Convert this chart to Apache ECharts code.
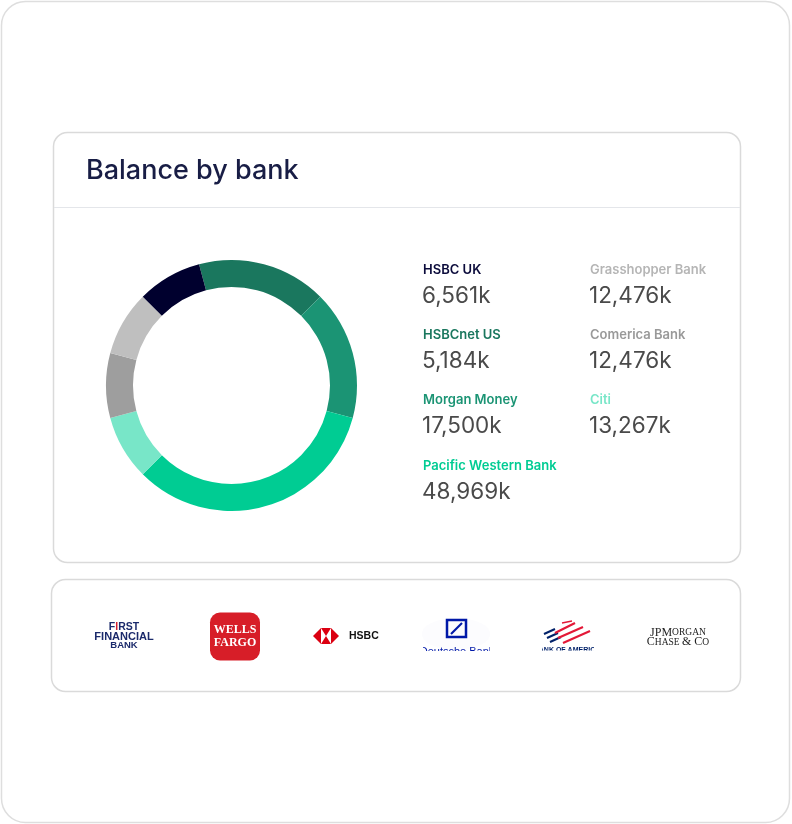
<!DOCTYPE html>
<html><head><meta charset="utf-8">
<script src="https://cdn.jsdelivr.net/npm/echarts@6/dist/echarts.min.js"></script>
<style>html,body{margin:0;padding:0;background:#fff}#c{width:792px;height:824px}</style>
</head><body><div id="c"></div>
<script>
// ---- data ----
const title = 'Balance by bank';
const banks = ['HSBCnet US','Morgan Money','Pacific Western Bank','Citi','Comerica Bank','Grasshopper Bank','HSBC UK'];
const donutShare = [2, 2, 4, 1, 1, 1, 1]; // arc sizes read from the ring
const bankColors = ['#1a775e','#1b9474','#00cc93','#78e6c8','#9e9e9e','#bfbfbf','#00002e'];
const legendNames = ['HSBC UK','HSBCnet US','Morgan Money','Pacific Western Bank','Grasshopper Bank','Comerica Bank','Citi'];
const legendValues = ['6,561k','5,184k','17,500k','48,969k','12,476k','12,476k','13,267k'];
const legendColors = ['#0b0b3b','#1a775e','#1b9474','#00cc93','#b5b5b5','#999999','#78e6c8'];
const logoNames = ['First Financial Bank','Wells Fargo','HSBC','Deutsche Bank','Bank of America','JPMorgan Chase & Co'];

const FONT = 'Inter';
const chart = echarts.init(document.getElementById('c'), null, {renderer:'canvas'});

const g = [];
// frames
g.push({type:'rect', shape:{x:1.5,y:1.5,width:788,height:821,r:24}, style:{fill:'#fff',stroke:'#dedede',lineWidth:1.5}, z:0});
g.push({type:'rect', shape:{x:53.5,y:132.5,width:687,height:430,r:14}, style:{fill:'#fff',stroke:'#dadada',lineWidth:1.5}, z:1});
g.push({type:'line', shape:{x1:54,y1:207.5,x2:740,y2:207.5}, style:{stroke:'#e4e6ea',lineWidth:1.2}, z:2});
g.push({type:'rect', shape:{x:51.5,y:579.5,width:689,height:112,r:14}, style:{fill:'#fff',stroke:'#dadada',lineWidth:1.5}, z:1});
// title
g.push({type:'text', x:86, y:171, style:{text:title, font:'500 27px '+FONT, fill:'#181d45', verticalAlign:'middle'}, z:3});

// legend
const colX = [423, 590];
const rowY = [264, 329, 394, 460];
legendNames.forEach((n,i)=>{
  const col = i < 4 ? 0 : 1, row = i < 4 ? i : i-4;
  g.push({type:'text', x:colX[col], y:rowY[row], style:{text:n, font:'600 13px '+FONT, fill:legendColors[i], verticalAlign:'top'}, z:3});
  g.push({type:'text', x:colX[col]-1, y:rowY[row]+21, style:{text:legendValues[i], font:'400 22.5px '+FONT, fill:'#4a4a4a', verticalAlign:'top'}, z:3});
});

// ---- logos (approximated) ----
// First Financial Bank
g.push({type:'text', x:124, y:627.5, style:{text:'{n|F}{r|I}{n|RST}', align:'center', verticalAlign:'middle',
  rich:{n:{font:'900 10.5px "Liberation Sans"', fill:'#1b2a6b'}, r:{font:'900 10.5px "Liberation Sans"', fill:'#d32030'}}}, z:3});
g.push({type:'text', x:124, y:636.5, style:{text:'FINANCIAL', font:'900 11px "Liberation Sans"', fill:'#1b2a6b', align:'center', verticalAlign:'middle'}, z:3});
g.push({type:'text', x:124, y:645.5, style:{text:'BANK', font:'900 9.5px "Liberation Sans"', fill:'#1b2a6b', align:'center', verticalAlign:'middle'}, z:3});
// Wells Fargo
g.push({type:'rect', shape:{x:210,y:612.5,width:50,height:48,r:10}, style:{fill:'#d71e28'}, z:3});
g.push({type:'text', x:235, y:630, style:{text:'WELLS', font:'bold 12px "Liberation Serif"', fill:'#fff', align:'center', verticalAlign:'middle'}, z:4});
g.push({type:'text', x:235, y:643, style:{text:'FARGO', font:'bold 12px "Liberation Serif"', fill:'#fff', align:'center', verticalAlign:'middle'}, z:4});
// HSBC
const hx=326, hy=636;
g.push({type:'polygon', shape:{points:[[hx-13,hy],[hx-5,hy-8],[hx-5,hy+8]]}, style:{fill:'#db0011'}, z:3});
g.push({type:'polygon', shape:{points:[[hx+13,hy],[hx+5,hy-8],[hx+5,hy+8]]}, style:{fill:'#db0011'}, z:3});
g.push({type:'polygon', shape:{points:[[hx-5,hy-8],[hx+5,hy-8],[hx,hy]]}, style:{fill:'#db0011'}, z:3});
g.push({type:'polygon', shape:{points:[[hx-5,hy+8],[hx+5,hy+8],[hx,hy]]}, style:{fill:'#db0011'}, z:3});
g.push({type:'text', x:349, y:636.5, style:{text:'HSBC', font:'bold 10.5px "Liberation Sans"', fill:'#111', verticalAlign:'middle'}, z:3});
// Deutsche Bank
g.push({type:'ellipse', shape:{cx:456,cy:634,rx:34,ry:16}, style:{fill:'#fcfcfe'}, z:2});
g.push({type:'rect', shape:{x:447,y:620,width:19,height:17}, style:{fill:'none',stroke:'#0018a8',lineWidth:2.5}, z:3});
g.push({type:'line', shape:{x1:451,y1:634,x2:462,y2:623}, style:{stroke:'#0018a8',lineWidth:2.2}, z:3});
g.push({type:'text', x:457, y:646, style:{text:'Deutsche Bank', font:'11px "Liberation Sans"', fill:'#0018a8', align:'center', verticalAlign:'top'}, z:3});
g.push({type:'rect', shape:{x:400,y:651,width:110,height:14}, style:{fill:'#fff'}, z:5});
g.push({type:'rect', shape:{x:405,y:640,width:18,height:14}, style:{fill:'#fff'}, z:5});
g.push({type:'rect', shape:{x:490,y:640,width:18,height:14}, style:{fill:'#fff'}, z:5});
// Bank of America
[[544,634],[547,638],[550,642]].forEach(p=>{
  g.push({type:'line', shape:{x1:p[0],y1:p[1],x2:p[0]+11,y2:p[1]-5}, style:{stroke:'#012169',lineWidth:2}, z:3});
});
[[555,633,575,623],[558,638,583,627],[563,643,590,631]].forEach(p=>{
  g.push({type:'line', shape:{x1:p[0],y1:p[1],x2:p[2],y2:p[3]}, style:{stroke:'#e31837',lineWidth:2.2}, z:3});
});
g.push({type:'line', shape:{x1:562,y1:623,x2:572,y2:621}, style:{stroke:'#e31837',lineWidth:1.5}, z:3});
g.push({type:'text', x:567, y:647, style:{text:'BANK OF AMERICA', font:'bold 7px "Liberation Sans"', fill:'#012169', align:'center', verticalAlign:'top'}, z:3});
g.push({type:'rect', shape:{x:530,y:650.5,width:80,height:12}, style:{fill:'#fff'}, z:5});
g.push({type:'rect', shape:{x:525,y:644,width:17,height:10}, style:{fill:'#fff'}, z:5});
g.push({type:'rect', shape:{x:594,y:644,width:17,height:10}, style:{fill:'#fff'}, z:5});
// JPMorgan
g.push({type:'text', x:678, y:632.5, style:{text:'{a|JPM}{b|ORGAN}', align:'center', verticalAlign:'middle',
  rich:{a:{font:'12px "Liberation Serif"',fill:'#222'}, b:{font:'9.5px "Liberation Serif"',fill:'#222'}}}, z:3});
g.push({type:'text', x:678, y:642, style:{text:'{a|C}{b|HASE }{a|& C}{b|O}', align:'center', verticalAlign:'middle',
  rich:{a:{font:'12px "Liberation Serif"',fill:'#222'}, b:{font:'9.5px "Liberation Serif"',fill:'#222'}}}, z:3});

chart.setOption({
  animation:false,
  backgroundColor:'#fff',
  graphic:{elements:g},
  series:[{
    type:'pie', z:10,
    center:[231.5, 385.5], radius:[98.5, 125.5],
    startAngle:105, clockwise:true,
    label:{show:false}, labelLine:{show:false},
    emphasis:{disabled:true}, silent:true,
    itemStyle:{borderWidth:0},
    data: banks.map((b,i)=>({name:b, value:donutShare[i], itemStyle:{color:bankColors[i]}}))
  }]
});
</script></body></html>
